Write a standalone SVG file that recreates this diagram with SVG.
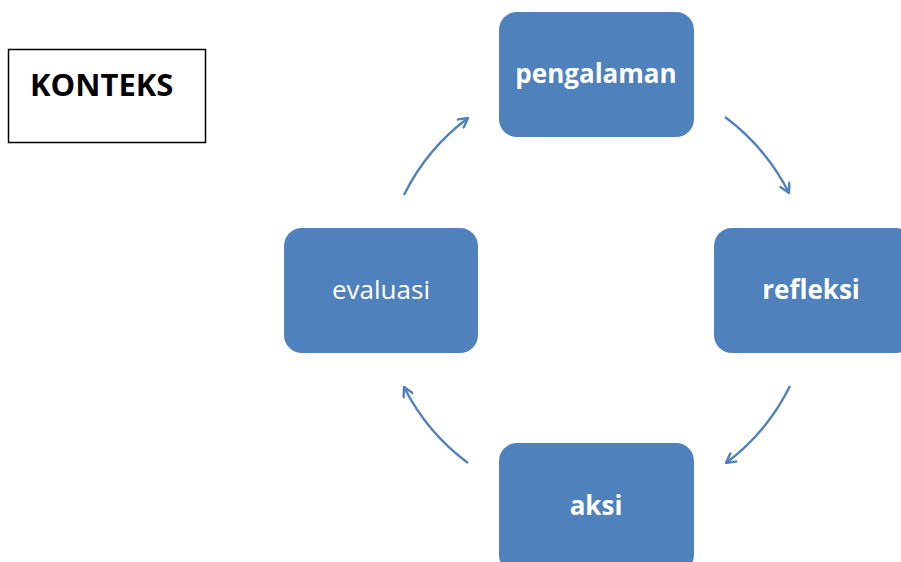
<svg xmlns="http://www.w3.org/2000/svg" width="901" height="562" viewBox="0 0 901 562">
<style>
.box{fill:#4F81BD;}
.lbl{fill:#fff;font-family:"Open Sans","Liberation Sans",sans-serif;font-size:26px;text-anchor:middle;}
.b{font-weight:bold;}
.arr{fill:none;stroke:#4F81BD;stroke-width:2.4;marker-end:url(#ah);}
</style>
<defs>
<marker id="ah" viewBox="0 0 12 12" refX="11" refY="6" markerWidth="12" markerHeight="12" markerUnits="userSpaceOnUse" orient="auto">
<path d="M1,0.5 L11,6 L1,11.5" fill="none" stroke="#4F81BD" stroke-width="2.4"/>
</marker>
</defs>
<rect width="901" height="562" fill="#fff"/>
<g id="konteks">
<rect x="8.5" y="49.5" width="197" height="93" fill="#fff" stroke="#000" stroke-width="1.5"/>
<text x="30" y="96" font-family="Open Sans,Liberation Sans,sans-serif" font-weight="bold" font-size="31" fill="#000">KONTEKS</text>
</g>
<g id="pengalaman">
<rect class="box" x="499" y="12" width="195" height="125" rx="18"/>
<text class="lbl b" x="596" y="83">pengalaman</text>
</g>
<g id="refleksi">
<rect class="box" x="714" y="228" width="200" height="125" rx="18"/>
<text class="lbl b" x="811" y="299">refleksi</text>
</g>
<g id="evaluasi">
<rect class="box" x="284" y="228" width="194" height="125" rx="18"/>
<text class="lbl" x="381" y="299" font-size="27.5">evaluasi</text>
</g>
<g id="aksi">
<rect class="box" x="499" y="443" width="195" height="130" rx="18"/>
<text class="lbl b" x="596" y="515">aksi</text>
</g>
<g id="connectors">
<path class="arr" d="M404,195 A214,214 0 0 1 468,118"/>
<path class="arr" d="M725,117 A216,216 0 0 1 789,193"/>
<path class="arr" d="M790,386 A216,216 0 0 1 726,463"/>
<path class="arr" d="M468,463 A214,214 0 0 1 404,387"/>
</g>
</svg>
